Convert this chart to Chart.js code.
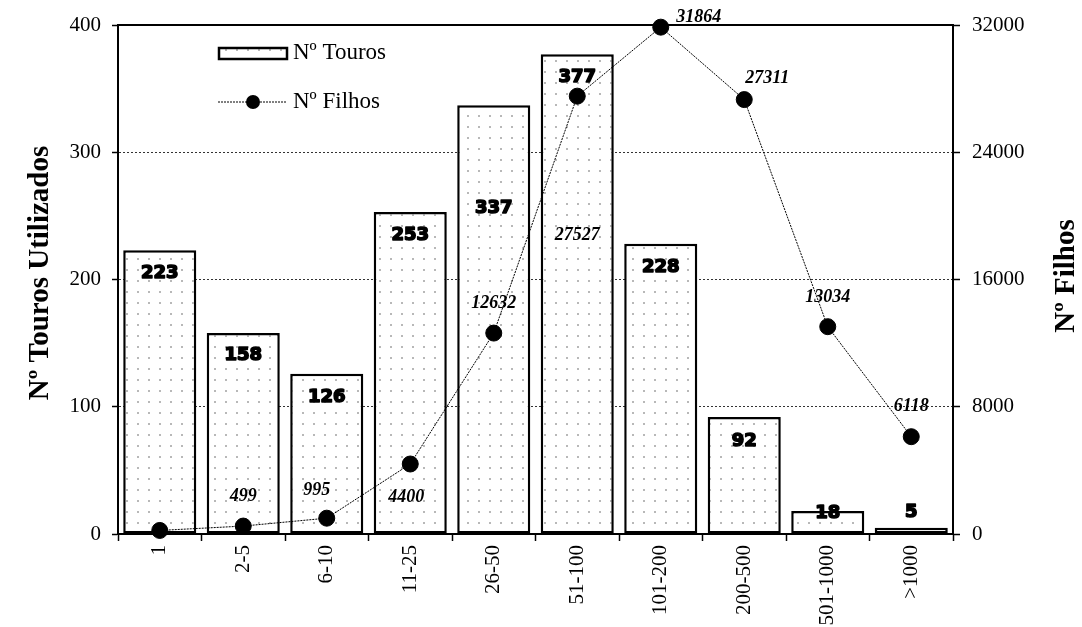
<!DOCTYPE html>
<html><head><meta charset="utf-8">
<script src="https://cdn.jsdelivr.net/npm/chart.js@4.4.1/dist/chart.umd.min.js"></script>
<style>html,body{margin:0;padding:0;background:#fff}canvas{display:block}</style>
</head><body>
<canvas id="c" width="1082" height="627"></canvas>
<script>
const categories = ['1','2-5','6-10','11-25','26-50','51-100','101-200','200-500','501-1000','>1000'];
const touros = [223,158,126,253,337,377,228,92,18,5];
const filhos = [223,499,995,4400,12632,27527,31864,27311,13034,6118];
const leftTicks = [0,100,200,300,400];
const rightTicks = [0,8000,16000,24000,32000];
const seriesNames = ['Nº Touros','Nº Filhos'];
const axisTitles = ['Nº Touros Utilizados','Nº Filhos'];

const SERIF = '"Liberation Serif", "Times New Roman", serif';
const canvas = document.getElementById('c');
const ctx0 = canvas.getContext('2d');

function makePattern(){
  const c = document.createElement('canvas'); c.width = 11; c.height = 11;
  const g = c.getContext('2d');
  g.fillStyle = '#fff'; g.fillRect(0,0,11,11);
  g.fillStyle = '#b8b8b8'; g.fillRect(5,5,2,2);
  return ctx0.createPattern(c,'repeat');
}
const dotPattern = makePattern();

// label placement (layout only)
const barLabelDy = [23,22,24,23,103,23,23,24,2,-15];
const pointLabelOff = [null,[0,-30],[-10,-28],[-4,33],[0,-30],[0,139],[38,-10],[23,-21],[0,-29],[0,-30]];

const decor = {
  id:'decor',
  afterDatasetsDraw(chart){
    const ctx = chart.ctx, ca = chart.chartArea;
    ctx.save();
    ctx.strokeStyle = '#000'; ctx.lineWidth = 2;
    ctx.beginPath(); ctx.moveTo(ca.left-1, ca.top); ctx.lineTo(ca.right+1, ca.top); ctx.stroke();
    ctx.font = 'bold 18px "DejaVu Sans", sans-serif';
    ctx.textAlign = 'center'; ctx.textBaseline = 'middle';
    ctx.fillStyle = '#000'; ctx.strokeStyle = '#000'; ctx.lineWidth = 1.6; ctx.lineJoin='round';
    chart.getDatasetMeta(0).data.forEach((bar,i)=>{
      const t = String(touros[i]); const y = bar.y + barLabelDy[i];
      ctx.strokeText(t, bar.x, y); ctx.fillText(t, bar.x, y);
    });
    ctx.font = 'italic bold 18px ' + SERIF;
    chart.getDatasetMeta(1).data.forEach((pt,i)=>{
      const o = pointLabelOff[i]; if(!o) return;
      ctx.fillText(String(filhos[i]), pt.x + o[0], pt.y + o[1]);
    });
    ctx.restore();
  },
  afterDraw(chart){
    const ctx = chart.ctx;
    ctx.save();
    ctx.fillStyle = '#000';
    ctx.font = 'bold 29px ' + SERIF;
    ctx.textAlign = 'center'; ctx.textBaseline = 'middle';
    ctx.save(); ctx.translate(41, 273); ctx.rotate(-Math.PI/2); ctx.fillText(axisTitles[0],0,0); ctx.restore();
    ctx.save(); ctx.translate(1067, 276); ctx.rotate(-Math.PI/2); ctx.fillText(axisTitles[1],0,0); ctx.restore();
    ctx.fillStyle = dotPattern; ctx.fillRect(219,48,68,11);
    ctx.strokeStyle = '#000'; ctx.lineWidth = 2.5; ctx.strokeRect(219,48,68,11);
    ctx.lineWidth = 1; ctx.setLineDash([2,1]);
    ctx.beginPath(); ctx.moveTo(218,102); ctx.lineTo(287,102); ctx.stroke();
    ctx.setLineDash([]);
    ctx.fillStyle = '#000';
    ctx.beginPath(); ctx.arc(253,102,7,0,Math.PI*2); ctx.fill();
    ctx.font = '23px ' + SERIF; ctx.textAlign = 'left';
    ctx.fillText(seriesNames[0], 293, 53);
    ctx.fillText(seriesNames[1], 293, 102);
    ctx.restore();
  }
};

const tickFont = {family: SERIF, size: 21};

new Chart(canvas, {
  data: {
    labels: categories,
    datasets: [
      { type:'bar', label: seriesNames[0], data: touros, yAxisID:'y', order: 2,
        backgroundColor: dotPattern, borderColor:'#000', borderWidth: 2.5, borderSkipped: false,
        barPercentage: 0.875, categoryPercentage: 1.0 },
      { type:'line', label: seriesNames[1], data: filhos, yAxisID:'y1', order: 1,
        borderColor:'#000', borderWidth: 1, borderDash:[2,1], tension: 0, clip: false,
        pointRadius: 8, pointBackgroundColor:'#000', pointBorderColor:'#000', pointHoverRadius: 8 }
    ]
  },
  options: {
    responsive: false, animation: false, devicePixelRatio: 1,
    layout: { padding: { top: 25, left: 0, right: 0, bottom: 0 } },
    plugins: { legend: { display: false }, tooltip: { enabled: false } },
    scales: {
      x: {
        type:'category', offset: true,
        grid: { offset: true, drawOnChartArea: false, tickLength: 7, tickColor:'#000', tickWidth: 1.5 },
        border: { color:'#000', width: 2 },
        ticks: { color:'#000', font: tickFont, minRotation: 90, maxRotation: 90, autoSkip: false, padding: 4 },
        afterFit(s){ s.height = 93; }
      },
      y: {
        position:'left', min: leftTicks[0], max: leftTicks[leftTicks.length-1],
        ticks: { stepSize: leftTicks[1]-leftTicks[0], color:'#000', font: tickFont, padding: 11,
                 callback: v => String(v) },
        grid: {
          color: c => (c.tick && c.tick.value > leftTicks[0] && c.tick.value < leftTicks[leftTicks.length-1]) ? '#333' : 'rgba(0,0,0,0)',
          lineWidth: 1, tickLength: 6, tickColor:'#000', tickWidth: 1.5, tickBorderDash: []
        },
        border: { color:'#000', width: 2, dash: [2,2] },
        afterFit(s){ s.width = 118; }
      },
      y1: {
        position:'right', min: rightTicks[0], max: rightTicks[rightTicks.length-1],
        ticks: { stepSize: rightTicks[1]-rightTicks[0], color:'#000', font: tickFont, padding: 12,
                 callback: v => String(v) },
        grid: { drawOnChartArea: false, tickLength: 7, tickColor:'#000', tickWidth: 1.5 },
        border: { color:'#000', width: 2 },
        afterFit(s){ s.width = 129; }
      }
    }
  },
  plugins: [decor]
});
</script>
</body></html>
